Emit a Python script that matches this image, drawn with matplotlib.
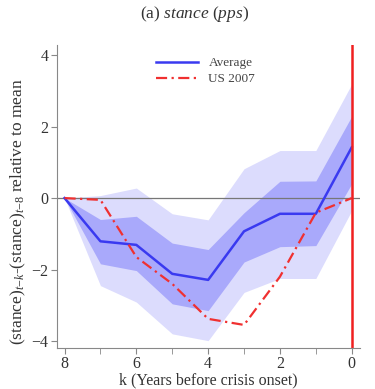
import matplotlib
matplotlib.use("Agg")
import matplotlib.pyplot as plt

plt.rcParams['font.family'] = ['Liberation Serif', 'DejaVu Serif']
plt.rcParams['mathtext.fontset'] = 'custom'
plt.rcParams['mathtext.rm'] = 'Liberation Serif'
plt.rcParams['mathtext.it'] = 'Liberation Serif:italic'

k = [8, 7, 6, 5, 4, 3, 2, 1, 0]
average = [0, -1.21, -1.31, -2.12, -2.29, -0.93, -0.44, -0.44, 1.42]
inner_upper = [0, -0.60, -0.51, -1.26, -1.44, -0.41, 0.47, 0.48, 2.29]
inner_lower = [0, -1.84, -2.03, -2.96, -3.15, -1.79, -1.36, -1.33, 0.40]
outer_upper = [0, 0.07, 0.28, -0.44, -0.61, 0.82, 1.33, 1.33, 3.19]
outer_lower = [0, -2.45, -2.91, -3.80, -3.99, -2.64, -2.25, -2.25, -0.35]
us2007 = [0, -0.05, -1.65, -2.40, -3.38, -3.55, -2.20, -0.41, 0.0]

fig = plt.figure(figsize=(3.75, 3.89), dpi=100)
ax = fig.add_axes([0.152, 0.105, 0.808, 0.779])

ax.fill_between(k, outer_lower, outer_upper, color='#dcdcfd', lw=0)
ax.fill_between(k, inner_lower, inner_upper, color='#a9a9fb', lw=0)
ax.axhline(0, color='#777777', lw=0.9)
ax.plot(k, average, color='#3a3af0', lw=1.8, label='Average')
ax.plot(k, us2007, color='#f03030', lw=1.6, ls=(0, (5, 2, 1, 2)), label='US 2007')
ax.axvline(0, color='#f02020', lw=1.8)

ax.set_xlim(8.21, -0.23)
ax.set_ylim(-4.2, 4.28)
ax.set_xticks([8, 6, 4, 2, 0])
ax.set_xticks([7, 5, 3, 1], minor=True)
ax.set_yticks([-4, -2, 0, 2, 4])
for s in ['top', 'right']:
    ax.spines[s].set_visible(False)
for s in ['left', 'bottom']:
    ax.spines[s].set_color('#888888')
ax.tick_params(which='both', direction='out', length=4, color='#888888',
               labelsize=11.5, labelcolor='#333333', pad=2)

ax.set_xlabel('k (Years before crisis onset)', fontsize=11.5, color='#333333', labelpad=0)
ax.set_ylabel(r'(stance)$_{t\mathrm{-}k}$-(stance)$_{t\mathrm{-}8}$ relative to mean',
              fontsize=12.5, color='#333333')
ax.yaxis.set_label_coords(-0.095, 0.45)

ax.legend(loc='upper center', bbox_to_anchor=(0.49, 1.0), frameon=False,
          fontsize=9.5, handlelength=3.2, labelcolor='#444444', labelspacing=0.3)

fig.text(0.52, 0.963, r'(a) $\it{stance\ (pps)}$', ha='center', va='center',
         fontsize=12.5, color='#333333')

fig.savefig('out.png', dpi=100)
